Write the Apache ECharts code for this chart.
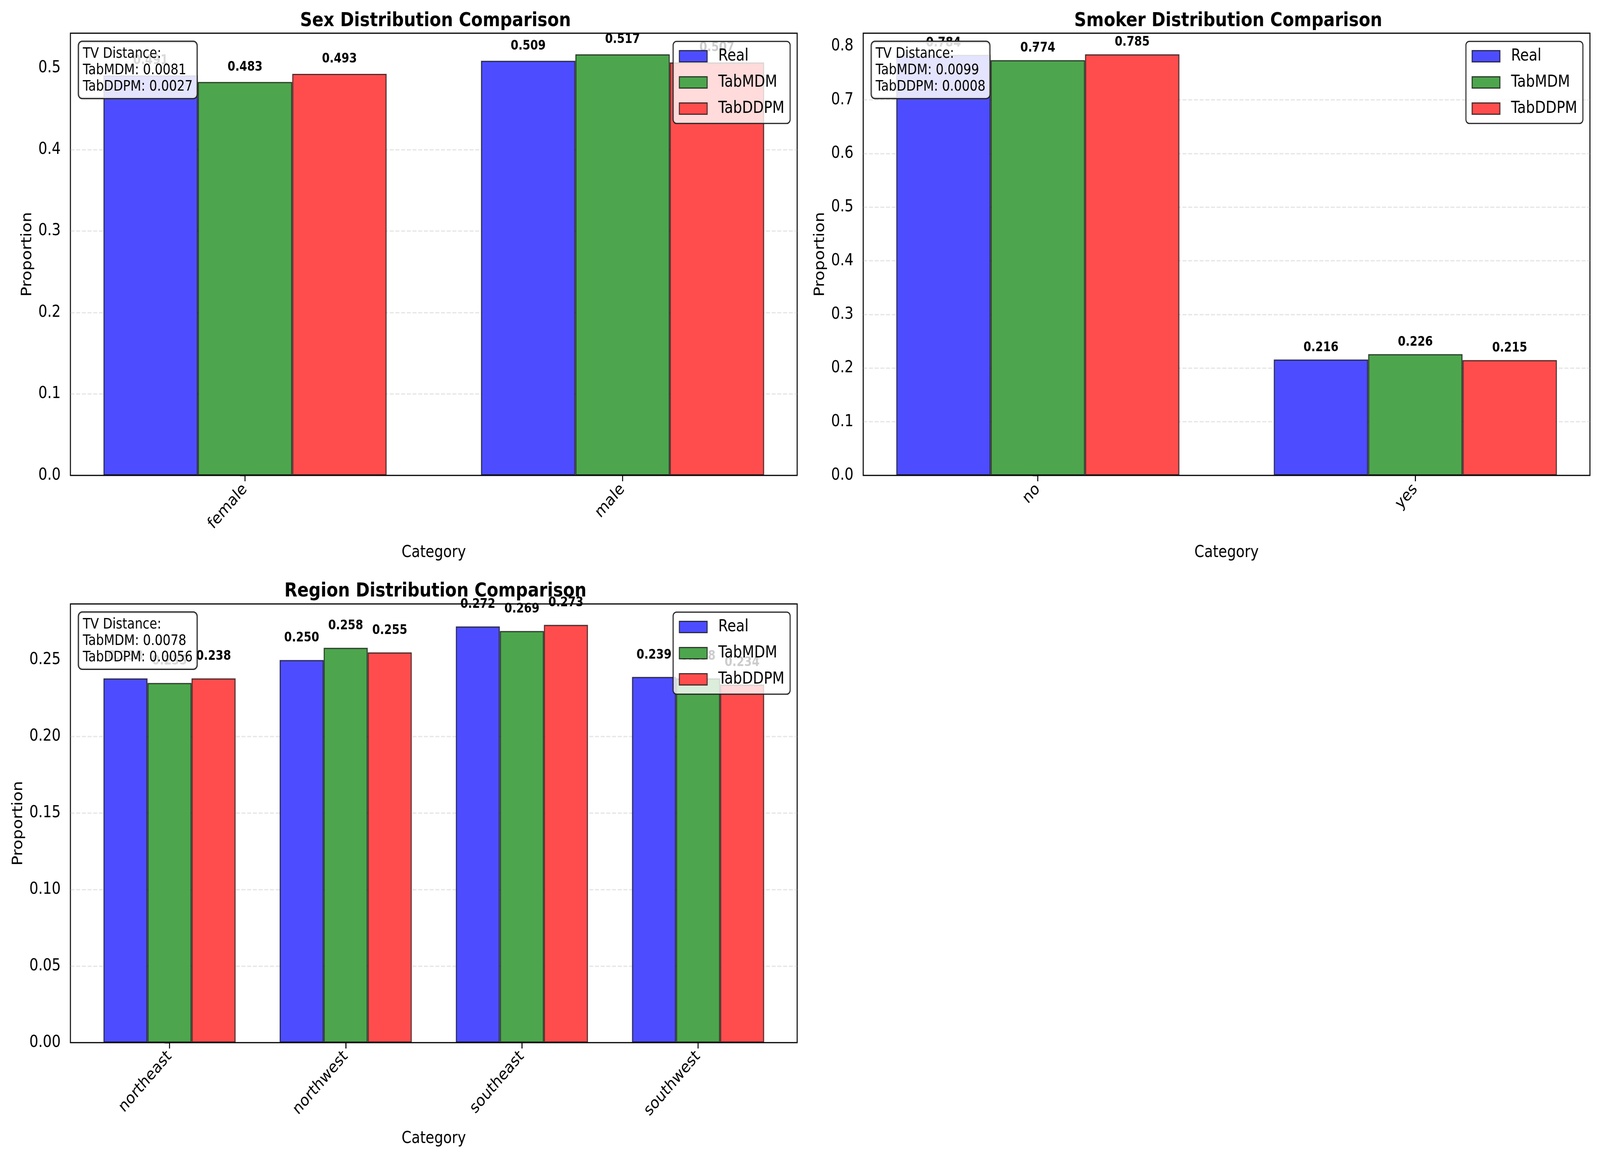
<!DOCTYPE html>
<html>
<head>
<meta charset="utf-8">
<script src="https://cdn.jsdelivr.net/npm/echarts@6/dist/echarts.min.js"></script>
<style>
html,body{margin:0;padding:0;background:#fff;overflow:hidden;width:100%;height:100%;}
#main{position:absolute;left:0;top:0;width:4771px;height:2972px;transform-origin:0 0;}
</style>
</head>
<body>
<div id="main"></div>
<script>
// ---- data ----
const seriesNames = ['Real', 'TabMDM', 'TabDDPM'];

const sexCats = ['female', 'male'];
const sexReal = [0.491, 0.509];
const sexTabMDM = [0.483, 0.517];
const sexTabDDPM = [0.493, 0.507];
const sexTV = ['0.0081', '0.0027'];
const sexTicks = [0.0, 0.1, 0.2, 0.3, 0.4, 0.5];

const smokerCats = ['no', 'yes'];
const smokerReal = [0.784, 0.216];
const smokerTabMDM = [0.774, 0.226];
const smokerTabDDPM = [0.785, 0.215];
const smokerTV = ['0.0099', '0.0008'];
const smokerTicks = [0.0, 0.1, 0.2, 0.3, 0.4, 0.5, 0.6, 0.7, 0.8];

const regionCats = ['northeast', 'northwest', 'southeast', 'southwest'];
const regionReal = [0.238, 0.250, 0.272, 0.239];
const regionTabMDM = [0.235, 0.258, 0.269, 0.238];
const regionTabDDPM = [0.238, 0.255, 0.273, 0.234];
const regionTV = ['0.0078', '0.0056'];
const regionTicks = [0.00, 0.05, 0.10, 0.15, 0.20, 0.25];

// ---- layout: chart drawn on a 4771 x 2972 stage, fitted to the viewport ----
const BW = 4771, BH = 2972;
const el = document.getElementById('main');
const fitX = window.innerWidth / BW, fitY = window.innerHeight / BH;
el.style.transform = 'scale(' + fitX + ',' + fitY + ')';

const FONT = 'DejaVu Sans';
const colors = ['#4D4DFF', '#4DA64D', '#FF4D4D'];

const panels = [
  {title: 'Sex Distribution Comparison', cats: sexCats, vals: [sexReal, sexTabMDM, sexTabDDPM], tv: sexTV, ticks: sexTicks, interval: 0.1, dec: 1,
   frame: {left: 210, top: 85, width: 2167, height: 1132}, titleTop: 24, yNameGap: 107, xNameGap: 177},
  {title: 'Smoker Distribution Comparison', cats: smokerCats, vals: [smokerReal, smokerTabMDM, smokerTabDDPM], tv: smokerTV, ticks: smokerTicks, interval: 0.1, dec: 1,
   frame: {left: 2574, top: 85, width: 2167, height: 1132}, titleTop: 24, yNameGap: 107, xNameGap: 177},
  {title: 'Region Distribution Comparison', cats: regionCats, vals: [regionReal, regionTabMDM, regionTabDDPM], tv: regionTV, ticks: regionTicks, interval: 0.05, dec: 2,
   frame: {left: 210, top: 1546, width: 2167, height: 1123}, titleTop: 1484, yNameGap: 134, xNameGap: 225}
];

const option = {
  backgroundColor: '#fff',
  animation: false,
  title: [], grid: [], xAxis: [], yAxis: [], legend: [], series: [], graphic: []
};

panels.forEach((p, k) => {
  const f = p.frame;
  const n = p.cats.length;
  const allVals = [].concat(...p.vals);
  const yMax = Math.max(...allVals) * 1.05;
  const span = (n - 1) + 0.75;
  const xMin = -0.375 - 0.05 * span;
  const xMax = (n - 1) + 0.375 + 0.05 * span;
  const idx = p.cats.map((c, i) => i);
  const labelDist = 0.01 * f.height / yMax;

  option.title.push({
    text: p.title,
    left: f.left + f.width / 2,
    top: p.titleTop,
    textAlign: 'center',
    textStyle: {fontFamily: FONT, fontSize: 50, fontWeight: 'bold', color: '#000'}
  });
  option.grid.push({
    left: f.left, top: f.top, width: f.width, height: f.height,
    show: true, borderColor: '#000', borderWidth: 3, backgroundColor: 'transparent'
  });
  option.xAxis.push({
    type: 'value', gridIndex: k, min: xMin, max: xMax,
    name: 'Category', nameLocation: 'middle', nameGap: p.xNameGap,
    nameTextStyle: {fontFamily: FONT, fontSize: 42, color: '#000'},
    axisLine: {show: false},
    splitLine: {show: false},
    axisTick: {show: true, customValues: idx, length: 15, lineStyle: {color: '#000', width: 3}},
    axisLabel: {customValues: idx, formatter: v => p.cats[Math.round(v)], rotate: 45, margin: 29,
                fontFamily: FONT, fontSize: 42, color: '#000'}
  });
  option.yAxis.push({
    type: 'value', gridIndex: k, min: 0, max: yMax, interval: p.interval,
    name: 'Proportion', nameLocation: 'middle', nameGap: p.yNameGap, nameRotate: 90,
    nameTextStyle: {fontFamily: FONT, fontSize: 42, color: '#000'},
    axisLine: {show: false},
    axisTick: {show: true, customValues: p.ticks, length: 15, lineStyle: {color: '#000', width: 3}},
    axisLabel: {customValues: p.ticks, formatter: v => v.toFixed(p.dec), margin: 29,
                fontFamily: FONT, fontSize: 42, color: '#000'},
    splitLine: {show: true, showMinLine: false, showMaxLine: false,
                lineStyle: {color: 'rgba(176,176,176,0.3)', width: 3.3, type: [12, 5]}}
  });
  option.legend.push({
    data: seriesNames,
    orient: 'vertical',
    right: BW - (f.left + f.width) + 21,
    top: f.top + 21,
    itemWidth: 83, itemHeight: 29, itemGap: 25,
    padding: [17, 17, 17, 17],
    backgroundColor: 'rgba(255,255,255,0.8)',
    borderColor: '#222', borderWidth: 3, borderRadius: 10,
    icon: 'rect',
    itemStyle: {borderColor: 'rgba(0,0,0,0.7)', borderWidth: 3},
    textStyle: {fontFamily: FONT, fontSize: 42, color: '#000', lineHeight: 42, padding: [0, 0, 0, 28]},
    z: 10
  });
  seriesNames.forEach((name, j) => {
    option.series.push({
      name: name, type: 'bar', xAxisIndex: k, yAxisIndex: k,
      data: idx.map(i => [i, p.vals[j][i]]),
      barWidth: '25%', barGap: '0%',
      itemStyle: {color: colors[j], borderColor: 'rgba(0,0,0,0.7)', borderWidth: 3},
      label: {show: true, position: 'top', distance: labelDist,
              formatter: q => q.value[1].toFixed(3),
              fontFamily: FONT, fontSize: 33, fontWeight: 'bold', color: '#000'}
    });
  });
  option.graphic.push({
    type: 'text', z: 100,
    x: f.left + 25, y: f.top + 22,
    style: {
      text: 'TV Distance:\nTabMDM: ' + p.tv[0] + '\nTabDDPM: ' + p.tv[1],
      font: '37px "DejaVu Sans"', fill: '#000', lineHeight: 42,
      backgroundColor: 'rgba(255,255,255,0.85)', borderColor: '#222', borderWidth: 3,
      borderRadius: 10, padding: [10, 12, 8, 12]
    }
  });
});

const chart = echarts.init(el, null, {renderer: 'canvas', width: BW, height: BH});
chart.setOption(option);
</script>
</body>
</html>
